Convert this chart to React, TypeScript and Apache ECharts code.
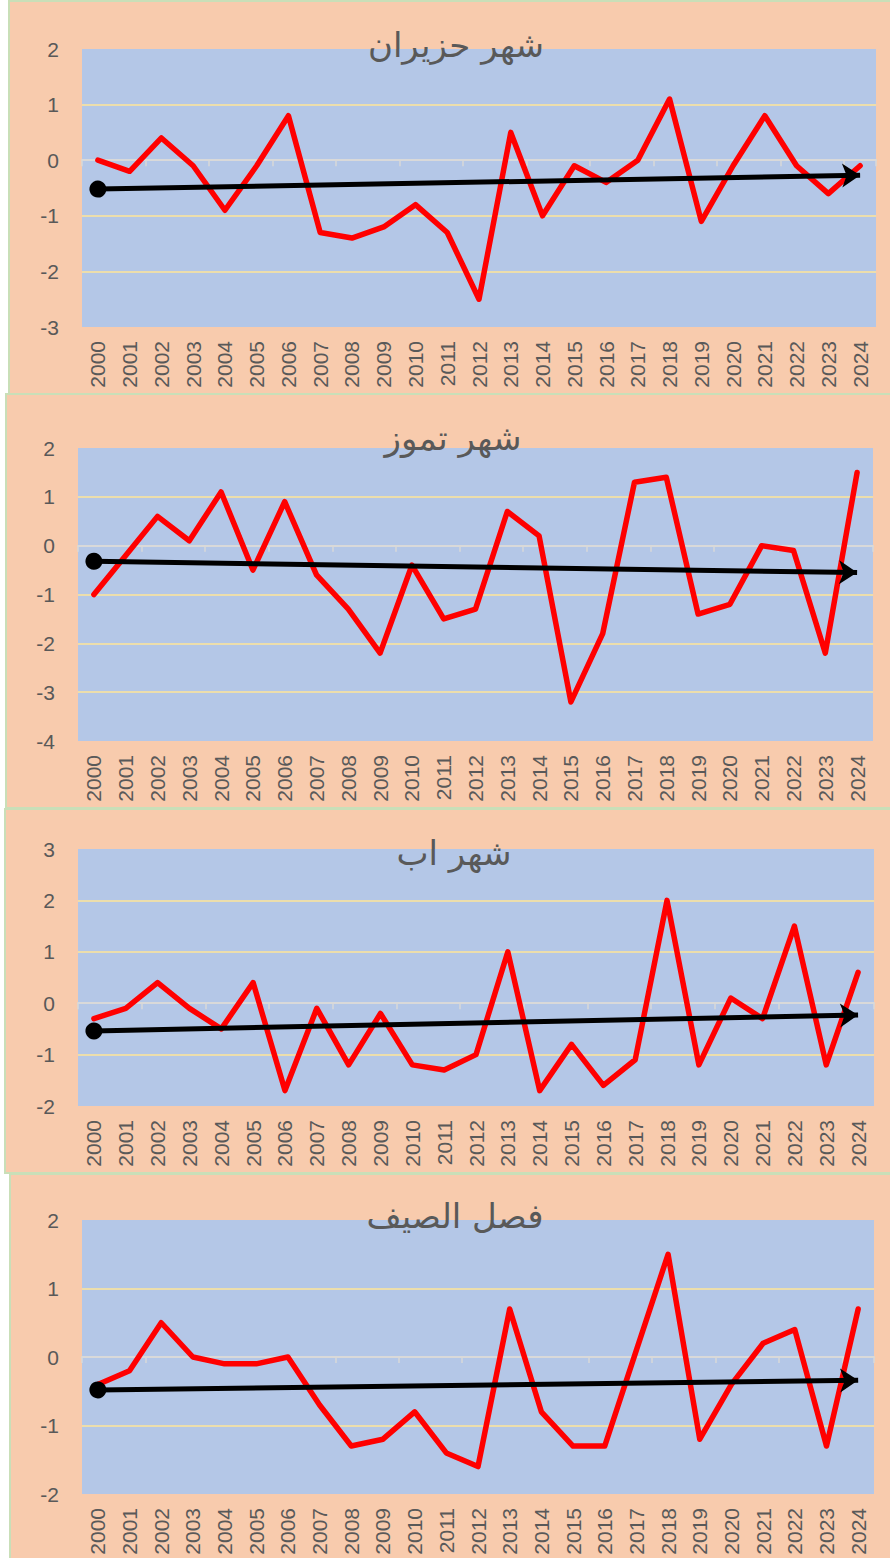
import React, { useEffect, useRef } from 'react';
import * as echarts from 'echarts';

const years = ['2000', '2001', '2002', '2003', '2004', '2005', '2006', '2007', '2008', '2009', '2010', '2011', '2012', '2013', '2014', '2015', '2016', '2017', '2018', '2019', '2020', '2021', '2022', '2023', '2024'];

const juneValues = [0, -0.2, 0.4, -0.1, -0.9, -0.1, 0.8, -1.3, -1.4, -1.2, -0.8, -1.3, -2.5, 0.5, -1.0, -0.1, -0.4, 0.0, 1.1, -1.1, -0.1, 0.8, -0.1, -0.6, -0.1];
const julyValues = [-1.0, -0.2, 0.6, 0.1, 1.1, -0.5, 0.9, -0.6, -1.3, -2.2, -0.4, -1.5, -1.3, 0.7, 0.2, -3.2, -1.8, 1.3, 1.4, -1.4, -1.2, 0.0, -0.1, -2.2, 1.5];
const augustValues = [-0.3, -0.1, 0.4, -0.1, -0.5, 0.4, -1.7, -0.1, -1.2, -0.2, -1.2, -1.3, -1.0, 1.0, -1.7, -0.8, -1.6, -1.1, 2.0, -1.2, 0.1, -0.3, 1.5, -1.2, 0.6];
const summerValues = [-0.4, -0.2, 0.5, 0.0, -0.1, -0.1, 0.0, -0.7, -1.3, -1.2, -0.8, -1.4, -1.6, 0.7, -0.8, -1.3, -1.3, 0.1, 1.5, -1.2, -0.4, 0.2, 0.4, -1.3, 0.7];

// trend line values at 2000 and 2024
const juneTrend = [-0.52, -0.27];
const julyTrend = [-0.32, -0.55];
const augustTrend = [-0.54, -0.23];
const summerTrend = [-0.48, -0.34];

const juneTicks = [-3, -2, -1, 0, 1, 2];
const julyTicks = [-4, -3, -2, -1, 0, 1, 2];
const augustTicks = [-2, -1, 0, 1, 2, 3];
const summerTicks = [-2, -1, 0, 1, 2];

const titles = ['شهر حزيران', 'شهر تموز', 'شهر اب', 'فصل الصيف'];

const LABEL_FONT = '"Liberation Sans", Arial, sans-serif';
const TITLE_FONT = '"DejaVu Sans", sans-serif';
const TEXT_COLOR = '#595959';

const panels = [
  { title: titles[0], values: juneValues, ticks: juneTicks, trend: juneTrend,
    box: { x: 9, y: 1, w: 900, h: 393 }, grid: { left: 82, top: 49, width: 794, height: 278 }, titlePos: [456, 45] },
  { title: titles[1], values: julyValues, ticks: julyTicks, trend: julyTrend,
    box: { x: 6, y: 394, w: 900, h: 414 }, grid: { left: 78, top: 448, width: 795, height: 293 }, titlePos: [453, 438] },
  { title: titles[2], values: augustValues, ticks: augustTicks, trend: augustTrend,
    box: { x: 5, y: 809, w: 900, h: 364 }, grid: { left: 78, top: 849, width: 796, height: 257 }, titlePos: [454, 853] },
  { title: titles[3], values: summerValues, ticks: summerTicks, trend: summerTrend,
    box: { x: 10, y: 1174, w: 900, h: 400 }, grid: { left: 82, top: 1220, width: 792, height: 274 }, titlePos: [455, 1216] },
];

export default function App() {
  const ref = useRef<HTMLDivElement>(null);
  useEffect(() => {
    if (!ref.current) return;
    const chart = echarts.init(ref.current, null, { renderer: 'svg' });

    const grids: any[] = [];
    const xAxes: any[] = [];
    const yAxes: any[] = [];
    const series: any[] = [];
    const graphics: any[] = [];

    panels.forEach((p, i) => {
      graphics.push({
        type: 'rect', z: -10, silent: true,
        shape: { x: p.box.x, y: p.box.y, width: p.box.w, height: p.box.h },
        style: { fill: '#f8cbad', stroke: '#c9dfb8', lineWidth: 2 },
      });
      graphics.push({
        type: 'text', z: 100, silent: true,
        x: p.titlePos[0], y: p.titlePos[1],
        style: { text: p.title, fill: TEXT_COLOR, font: `34px ${TITLE_FONT}`, align: 'center', verticalAlign: 'middle' },
      });
      grids.push({
        left: p.grid.left, top: p.grid.top, width: p.grid.width, height: p.grid.height,
        show: true, backgroundColor: '#b4c7e7', borderWidth: 0,
      });
      xAxes.push({
        gridIndex: i, type: 'category', data: years, position: 'bottom',
        axisLine: { show: true, onZero: true, lineStyle: { color: '#d9d9d9', width: 2 } },
        axisTick: { show: true, length: 6, lineStyle: { color: '#d9d9d9', width: 1.5 } },
        axisLabel: { show: false },
        splitLine: { show: false },
      });
      xAxes.push({
        gridIndex: i, type: 'category', data: years, position: 'bottom',
        axisLine: { show: false, onZero: false },
        axisTick: { show: false },
        axisLabel: { show: true, rotate: 90, interval: 0, margin: 14, fontSize: 21, color: TEXT_COLOR, fontFamily: LABEL_FONT },
        splitLine: { show: false },
      });
      const ticks = p.ticks;
      yAxes.push({
        gridIndex: i, type: 'value',
        min: ticks[0], max: ticks[ticks.length - 1], interval: 1,
        axisLine: { show: false }, axisTick: { show: false }, splitLine: { show: false },
        axisLabel: { fontSize: 21, color: TEXT_COLOR, fontFamily: LABEL_FONT, margin: 23 },
      });
      const gridValues = ticks.filter((t, k) => k > 0 && k < ticks.length - 1 && t !== 0);
      series.push({
        type: 'line', xAxisIndex: 2 * i, yAxisIndex: i, data: p.values,
        symbol: 'none', z: 3,
        lineStyle: { color: '#ff0000', width: 5.5, cap: 'round', join: 'round' },
        markLine: {
          silent: true, z: 1, symbol: ['none', 'none'], label: { show: false },
          lineStyle: { color: '#ffe699', width: 1.5, type: 'solid' },
          data: gridValues.map((v) => ({ yAxis: v })),
        },
      });
      series.push({
        type: 'line', xAxisIndex: 2 * i, yAxisIndex: i, data: [],
        symbol: 'none', z: 6,
        markLine: {
          silent: true, z: 6, label: { show: false },
          lineStyle: { color: '#000000', width: 5, type: 'solid' },
          data: [[
            { coord: [years[0], p.trend[0]], symbol: 'circle', symbolSize: 17 },
            { coord: [years[years.length - 1], p.trend[1]], symbol: 'arrow', symbolSize: 18 },
          ]],
        },
      });
    });

    chart.setOption({
      animation: false,
      backgroundColor: '#ffffff',
      grid: grids,
      xAxis: xAxes,
      yAxis: yAxes,
      series,
      graphic: { elements: graphics },
    });
    return () => chart.dispose();
  }, []);

  return <div ref={ref} style={{ position: 'absolute', left: 0, top: 0, width: 890, height: 1558 }} />;
}
